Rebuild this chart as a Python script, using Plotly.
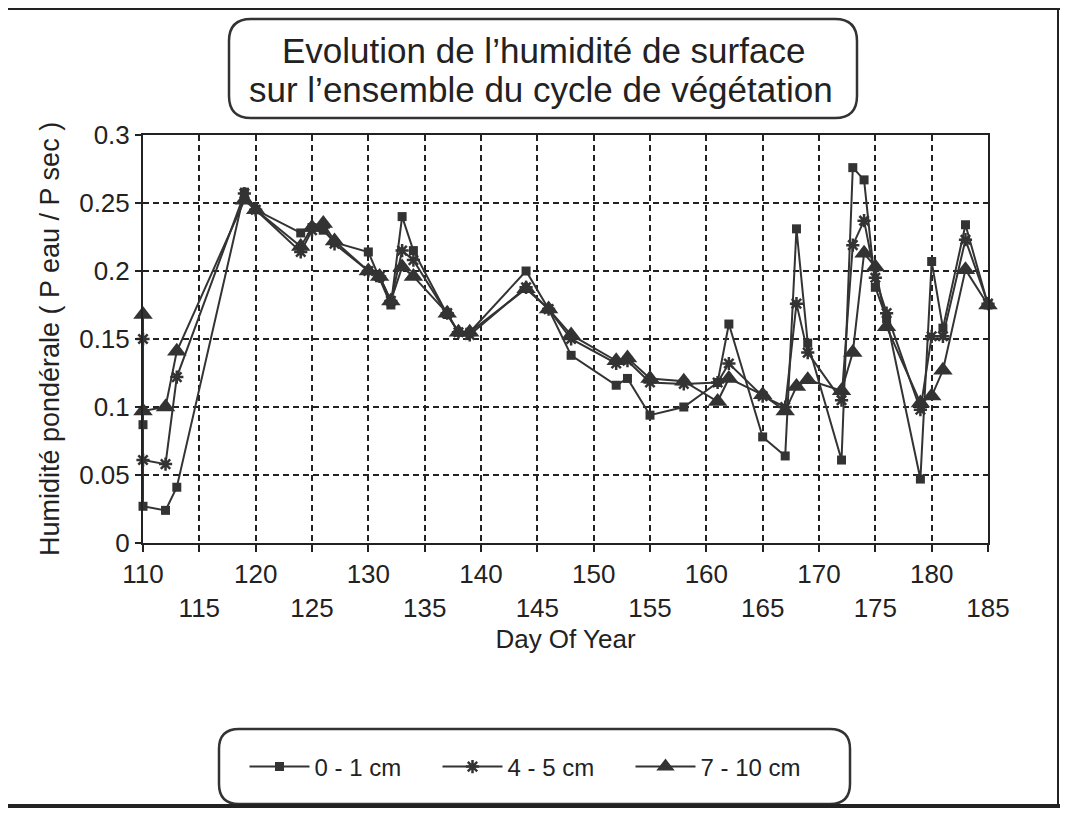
import plotly.graph_objects as go

# ---- data ----
days = [110, 110, 112, 113, 119, 120, 124, 125, 126, 127, 130, 131, 132, 133, 134,
        137, 138, 139, 144, 146, 148, 152, 153, 155, 158, 161, 162, 165, 167, 168,
        169, 172, 173, 174, 175, 176, 179, 180, 181, 183, 185]

hum_0_1 = [0.087, 0.027, 0.024, 0.041, 0.258, 0.245, 0.228, 0.232, 0.230, 0.221, 0.214, 0.195, 0.175, 0.240, 0.215,
           0.168, 0.155, 0.155, 0.200, 0.172, 0.138, 0.116, 0.121, 0.094, 0.100, 0.118, 0.161, 0.078, 0.064, 0.231,
           0.147, 0.061, 0.276, 0.267, 0.188, 0.165, 0.047, 0.207, 0.158, 0.234, 0.175]

hum_4_5 = [0.150, 0.061, 0.058, 0.122, 0.257, 0.245, 0.214, 0.230, 0.232, 0.220, 0.200, 0.196, 0.178, 0.215, 0.208,
           0.169, 0.155, 0.153, 0.188, 0.172, 0.150, 0.132, 0.134, 0.118, 0.117, 0.118, 0.132, 0.108, 0.100, 0.176,
           0.140, 0.105, 0.219, 0.237, 0.195, 0.169, 0.098, 0.152, 0.152, 0.223, 0.176]

hum_7_10 = [0.168, 0.097, 0.100, 0.141, 0.252, 0.245, 0.218, 0.232, 0.235, 0.222, 0.200, 0.196, 0.178, 0.203, 0.196,
            0.169, 0.155, 0.155, 0.187, 0.172, 0.153, 0.134, 0.136, 0.121, 0.119, 0.104, 0.121, 0.109, 0.097, 0.115,
            0.120, 0.112, 0.140, 0.213, 0.203, 0.159, 0.103, 0.108, 0.127, 0.201, 0.175]

series_names = ["0 - 1 cm", "4 - 5 cm", "7 - 10 cm"]

x_tickvals = list(range(110, 186, 5))
x_ticktext = [str(v) if (v % 10 == 0) else "<br>" + str(v) for v in x_tickvals]
y_tickvals = [0, 0.05, 0.1, 0.15, 0.2, 0.25, 0.3]
y_ticktext = ["0", "0.05", "0.1", "0.15", "0.2", "0.25", "0.3"]

title_lines = ["Evolution de l\u2019humidité de surface", "sur l\u2019ensemble du cycle de végétation"]

# ---- figure ----
OFF = 8  # default body margin of the html page
W, H = 1068 - 2 * OFF, 816 - 2 * OFF
L, T = 143 - OFF, 135 - OFF
R = W - (988 - OFF)
B = H - (543 - OFF)
INK = "#333333"
FONT = "Liberation Sans, Arial, Helvetica, sans-serif"

fig = go.Figure()
fig.add_trace(go.Scatter(x=days, y=hum_0_1, name=series_names[0], mode="lines+markers",
                         line=dict(color=INK, width=2),
                         marker=dict(symbol="square", size=9, color=INK), cliponaxis=False))
fig.add_trace(go.Scatter(x=days, y=hum_4_5, name=series_names[1], mode="lines+markers",
                         line=dict(color=INK, width=2),
                         marker=dict(symbol="asterisk-open", size=11, color=INK,
                                     line=dict(color=INK, width=2.5)), cliponaxis=False))
fig.add_trace(go.Scatter(x=days, y=hum_7_10, name=series_names[2], mode="lines+markers",
                         line=dict(color=INK, width=2),
                         marker=dict(symbol="triangle-up", size=17, color=INK), cliponaxis=False))

pw, ph = W - L - R, H - T - B


def px2paper(x, y):
    """page pixel -> paper coordinates"""
    x -= OFF
    y -= OFF
    return (x - L) / pw, (H - B - y) / ph


def rounded_rect(x0, y0, x1, y1, r):
    def P(x, y):
        a, b = px2paper(x, y)
        return f"{a:.5f},{b:.5f}"
    return (f"M {P(x0 + r, y0)} L {P(x1 - r, y0)} Q {P(x1, y0)} {P(x1, y0 + r)} "
            f"L {P(x1, y1 - r)} Q {P(x1, y1)} {P(x1 - r, y1)} "
            f"L {P(x0 + r, y1)} Q {P(x0, y1)} {P(x0, y1 - r)} "
            f"L {P(x0, y0 + r)} Q {P(x0, y0)} {P(x0 + r, y0)} Z")


shapes = [
    dict(type="path", xref="paper", yref="paper", path=rounded_rect(229, 19, 857, 118, 22),
         line=dict(color=INK, width=2.5)),
    dict(type="path", xref="paper", yref="paper", path=rounded_rect(219, 729, 850, 804, 20),
         line=dict(color=INK, width=2.5)),
]
# frame of the scanned sheet
fx0, fy0 = px2paper(8, 9)
fx1, fy1 = px2paper(1060, 9)
shapes.append(dict(type="line", xref="paper", yref="paper", x0=fx0, y0=fy0, x1=fx1, y1=fy1,
                   line=dict(color="#222", width=2)))
rx0, ry0 = px2paper(1058, 9)
rx1, ry1 = px2paper(1058, 806)
shapes.append(dict(type="line", xref="paper", yref="paper", x0=rx0, y0=ry0, x1=rx1, y1=ry1,
                   line=dict(color="#222", width=2)))
bx0, by0 = px2paper(8, 806)
bx1, by1 = px2paper(1060, 806)
shapes.append(dict(type="line", xref="paper", yref="paper", x0=bx0, y0=by0, x1=bx1, y1=by1,
                   line=dict(color="#222", width=4)))

annotations = []
for txt, (cx, cy) in zip(title_lines, [(543, 50), (541, 90)]):
    ax, ay = px2paper(cx, cy)
    annotations.append(dict(text=txt, xref="paper", yref="paper", x=ax, y=ay,
                            xanchor="center", yanchor="middle", showarrow=False,
                            font=dict(size=35, family=FONT, color="#222")))

lx, ly = px2paper(534, 767)

fig.update_layout(
    width=W, height=H,
    margin=dict(l=L, r=R, t=T, b=B),
    paper_bgcolor="white", plot_bgcolor="white",
    font=dict(family=FONT, color="#222", size=26),
    shapes=shapes,
    annotations=annotations,
    legend=dict(orientation="h", x=lx, y=ly, xanchor="center", yanchor="middle",
                font=dict(size=24, family=FONT, color="#222"), bgcolor="rgba(0,0,0,0)",
                itemwidth=60, tracegroupgap=0, entrywidth=118, entrywidthmode="pixels"),
    showlegend=True,
)

fig.update_xaxes(range=[110, 185], tickvals=x_tickvals, ticktext=x_ticktext,
                 showline=True, linecolor="#222", linewidth=2, mirror=True,
                 ticks="outside", ticklen=7, tickcolor="#222", tickwidth=2,
                 showgrid=True, gridcolor="#222", gridwidth=2, griddash="6px,4px",
                 zeroline=False, tickfont=dict(size=26),
                 title=dict(text="Day Of Year", font=dict(size=26), standoff=8))
fig.update_yaxes(range=[0, 0.3], tickvals=y_tickvals, ticktext=y_ticktext,
                 showline=True, linecolor="#222", linewidth=2, mirror=True,
                 ticks="outside", ticklen=6, tickcolor="#222", tickwidth=2,
                 showgrid=True, gridcolor="#222", gridwidth=2, griddash="6px,4px",
                 zeroline=False, tickfont=dict(size=26),
                 title=dict(text="Humidité pondérale ( P eau / P sec )", font=dict(size=27), standoff=12))

fig.write_html("out.html")
